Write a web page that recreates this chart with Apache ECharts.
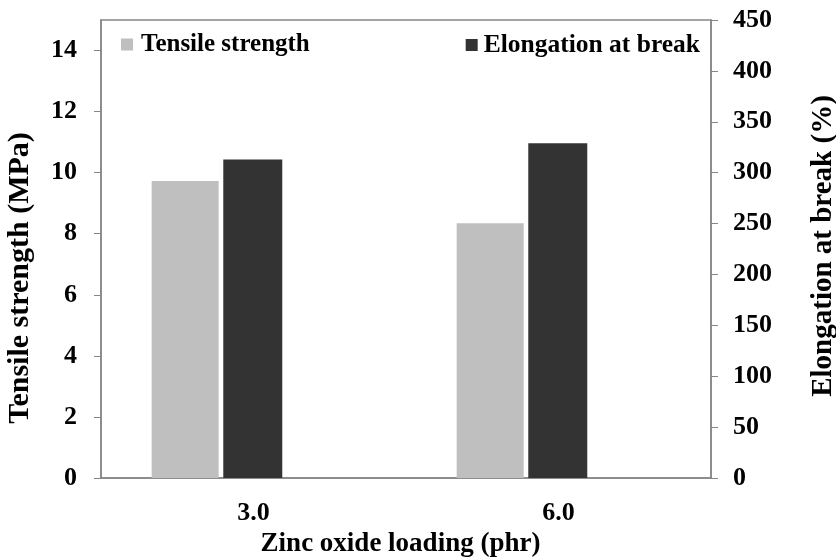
<!DOCTYPE html>
<html>
<head>
<meta charset="utf-8">
<script src="https://cdn.jsdelivr.net/npm/echarts@6/dist/echarts.min.js"></script>
<style>
html,body{margin:0;padding:0;background:#fff;}
#chart{width:836px;height:559px;}
</style>
</head>
<body>
<div id="chart"></div>
<script>
const categories = ['3.0', '6.0'];
const tensileStrength = [9.73, 8.34];
const elongationAtBreak = [313, 329];
const leftTicks = [0, 2, 4, 6, 8, 10, 12, 14];
const rightTicks = [0, 50, 100, 150, 200, 250, 300, 350, 400, 450];

const FONT = '"Liberation Serif", "Times New Roman", serif';
const AXIS_GRAY = '#868686';
const txt = (size) => ({fontFamily: FONT, fontWeight: 'bold', fontSize: size, color: '#000'});

const chart = echarts.init(document.getElementById('chart'), null, {renderer: 'canvas'});
chart.setOption({
  animation: false,
  grid: {left: 101, right: 125, top: 20, bottom: 81, outerBoundsMode: 'none', containLabel: false,
         show: true, borderColor: AXIS_GRAY, borderWidth: 1.5, backgroundColor: 'transparent'},
  legend: [
    {data: ['Tensile strength'], left: 121, top: 32, padding: 0, icon: 'rect', itemWidth: 12, itemHeight: 12,
     textStyle: Object.assign(txt(25), {padding: [0, 0, 0, 3]})},
    {data: ['Elongation at break'], right: 136, top: 32, padding: 0, icon: 'rect', itemWidth: 12, itemHeight: 12,
     textStyle: Object.assign(txt(25.5), {padding: [0, 0, 0, 1]})}
  ],
  xAxis: {
    type: 'category', data: categories,
    axisLine: {lineStyle: {color: AXIS_GRAY, width: 1.5}},
    axisTick: {show: false},
    axisLabel: Object.assign(txt(26), {margin: 22}),
    name: 'Zinc oxide loading (phr)', nameLocation: 'middle', nameGap: 52,
    nameTextStyle: Object.assign(txt(27), {padding: [0, 11, 0, 0]})
  },
  yAxis: [
    {
      type: 'value', min: 0, max: 15, interval: 2, position: 'left',
      axisLine: {show: true, lineStyle: {color: AXIS_GRAY, width: 1.5}},
      axisTick: {show: true, length: 7, lineStyle: {color: AXIS_GRAY}},
      splitLine: {show: false},
      axisLabel: Object.assign(txt(26), {margin: 24, showMaxLabel: false,
        formatter: v => leftTicks.indexOf(v) >= 0 ? String(v) : ''}),
      name: 'Tensile strength (MPa)', nameLocation: 'middle', nameGap: 66, nameRotate: 90,
      nameTextStyle: Object.assign(txt(30), {padding: [0, 58, 0, 0]})
    },
    {
      type: 'value', min: 0, max: 450, interval: 50, position: 'right',
      axisLine: {show: true, lineStyle: {color: AXIS_GRAY, width: 1.5}},
      axisTick: {show: true, length: 7, lineStyle: {color: AXIS_GRAY}},
      splitLine: {show: false},
      axisLabel: Object.assign(txt(26), {margin: 22,
        formatter: v => rightTicks.indexOf(v) >= 0 ? String(v) : ''}),
      name: 'Elongation at break (%)', nameLocation: 'middle', nameGap: 98, nameRotate: 90,
      nameTextStyle: Object.assign(txt(29), {padding: [0, 0, 0, 6]})
    }
  ],
  series: [
    {name: 'Tensile strength', type: 'bar', yAxisIndex: 0, data: tensileStrength,
     barWidth: 67, barGap: '6.87%', itemStyle: {color: '#bfbfbf'}},
    {name: 'Elongation at break', type: 'bar', yAxisIndex: 1, data: elongationAtBreak,
     barWidth: 59, barGap: '6.87%', itemStyle: {color: '#333333'}},
    {name: 'spacer', type: 'bar', yAxisIndex: 0, data: [null, null],
     barWidth: 69, barGap: '6.87%', silent: true, itemStyle: {color: 'rgba(0,0,0,0)'}}
  ]
});
</script>
</body>
</html>
